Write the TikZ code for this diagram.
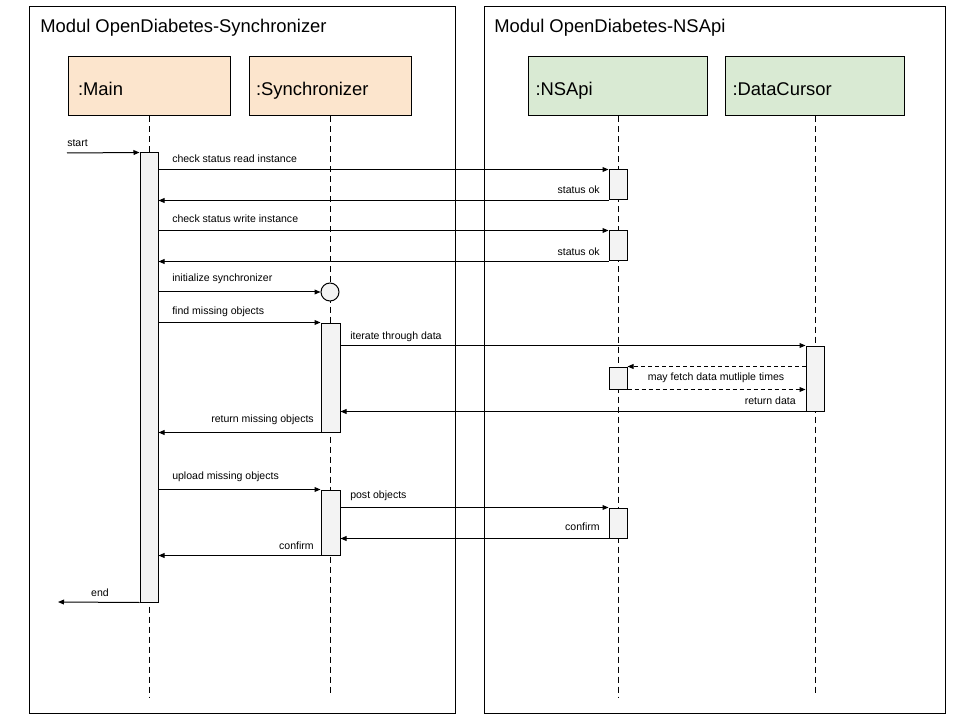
\documentclass[tikz,border=0pt]{standalone}
\usepackage{fontspec}
\setmainfont{Liberation Sans}
\usetikzlibrary{arrows.meta,fit,calc}
\definecolor{orangefill}{HTML}{FCE5CD}
\definecolor{greenfill}{HTML}{D9EAD3}
\definecolor{barfill}{HTML}{F3F3F3}
\begin{document}
\begin{tikzpicture}[x=0.75pt,y=-0.75pt,
 frame/.style={draw, line width=0.75pt, inner sep=0pt},
 title/.style={font=\fontsize{13.8}{16}\selectfont, inner sep=0pt},
 obj/.style={draw, line width=0.75pt, minimum height=44.25pt, align=left, inner ysep=0pt, text height=12.9pt, text depth=0pt, font=\fontsize{13.8}{16}\selectfont},
 actbar/.style={draw, fill=barfill, line width=0.75pt, inner sep=0pt},
 life/.style={line width=0.75pt, dash pattern=on 4.5pt off 3pt},
 msg/.style={line width=0.75pt, -{Triangle[length=4.5pt,width=3.6pt]}},
 dmsg/.style={msg, dash pattern=on 3pt off 2.25pt},
 lbl/.style={font=\fontsize{7.9}{9}\selectfont, inner sep=0pt}
]
\useasboundingbox (0,0) rectangle (960,720);
\fill[white] (0,0) rectangle (960,720);

% frames
\node[frame, fit={(29,7)(455,713)}] (fl) {};
\node[frame, fit={(484,7)(945,713)}] (fr) {};
\node[title, anchor=base west] (tl) at (40,33) {Modul OpenDiabetes-Synchronizer};
\node[title, anchor=base west] (tr) at (494,33) {Modul OpenDiabetes-NSApi};

% objects
\node[obj, fill=orangefill, minimum width=121.5pt, text width=106.5pt, inner xsep=7.5pt] (main) at (149,86.5) {:Main};
\node[obj, fill=orangefill, minimum width=121.5pt, text width=111pt, inner xsep=5.25pt] (sync) at (330,86.5) {:Synchronizer};
\node[obj, fill=greenfill, minimum width=134.25pt, text width=123.75pt, inner xsep=5.25pt] (nsapi) at (618,86.5) {:NSApi};
\node[obj, fill=greenfill, minimum width=134.25pt, text width=123.75pt, inner xsep=5.25pt] (dcur) at (815,86.5) {:DataCursor};

% lifelines
\coordinate (mainEnd) at (149,698);
\coordinate (syncEnd) at (330,693);
\coordinate (nsEnd) at (618,697);
\coordinate (dcEnd) at (815,693);
\draw[life] (main.south) -- (mainEnd);
\draw[life] (sync.south) -- (syncEnd);
\draw[life] (nsapi.south) -- (nsEnd);
\draw[life] (dcur.south) -- (dcEnd);

% activation bars
\node[actbar, fit={(140,153)(158,602)}] (mb) {};
\node[actbar, fit={(609,170)(627,200)}] (n1) {};
\node[actbar, fit={(609,231)(627,261)}] (n2) {};
\node[actbar, circle, minimum size=13.5pt] (sc) at (330,292) {};
\node[actbar, fit={(321,323)(340,432)}] (s1) {};
\node[actbar, fit={(806,346)(824,411)}] (dc) {};
\node[actbar, fit={(609,367)(627,389)}] (n3) {};
\node[actbar, fit={(321,490)(340,555)}] (s2) {};
\node[actbar, fit={(609,508)(627,538)}] (n4) {};

% messages
\coordinate (startpt) at (67,153);
\coordinate (endpt) at (58,602);
\draw[msg] (startpt) -- (mb.north west);
\node[lbl, anchor=west] (lstart) at (67,143) {start};

\draw[msg] (mb.east |- n1.north) -- (n1.north west);
\node[lbl, anchor=west] (l1) at (172,159) {check status read instance};
\draw[msg] (n1.south west) -- (mb.east |- n1.south);
\node[lbl, anchor=east] (l2) at (600,190) {status ok};

\draw[msg] (mb.east |- n2.north) -- (n2.north west);
\node[lbl, anchor=west] (l3) at (172,219) {check status write instance};
\draw[msg] (n2.south west) -- (mb.east |- n2.south);
\node[lbl, anchor=east] (l4) at (600,252) {status ok};

\draw[msg] (mb.east |- sc.west) -- (sc.west);
\node[lbl, anchor=west] (l5) at (172,279) {initialize synchronizer};

\draw[msg] (mb.east |- s1.north) -- (s1.north west);
\node[lbl, anchor=west] (l6) at (172,312) {find missing objects};

\draw[msg] (s1.east |- dc.north) -- (dc.north west);
\node[lbl, anchor=west] (l7) at (350,337) {iterate through data};

\draw[dmsg] (dc.west |- n3.north) -- (n3.north east);
\draw[dmsg] (n3.south east) -- (dc.west |- n3.south);
\node[lbl] (l8) at (716,378) {may fetch data mutliple times};

\draw[msg] (dc.south west) -- (s1.east |- dc.south);
\node[lbl, anchor=east] (l9) at (796,401) {return data};

\draw[msg] (s1.south west) -- (mb.east |- s1.south);
\node[lbl, anchor=east] (l10) at (314,420) {return missing objects};

\draw[msg] (mb.east |- s2.north) -- (s2.north west);
\node[lbl, anchor=west] (l11) at (172,477) {upload missing objects};

\draw[msg] (s2.east |- n4.north) -- (n4.north west);
\node[lbl, anchor=west] (l12) at (350,496) {post objects};

\draw[msg] (n4.south west) -- (s2.east |- n4.south);
\node[lbl, anchor=east] (l13) at (600,527) {confirm};

\draw[msg] (s2.south west) -- (mb.east |- s2.south);
\node[lbl, anchor=east] (l14) at (314,546) {confirm};

\draw[msg] (mb.south west) -- (endpt);
\node[lbl] (l15) at (100,593) {end};
\end{tikzpicture}
\end{document}
